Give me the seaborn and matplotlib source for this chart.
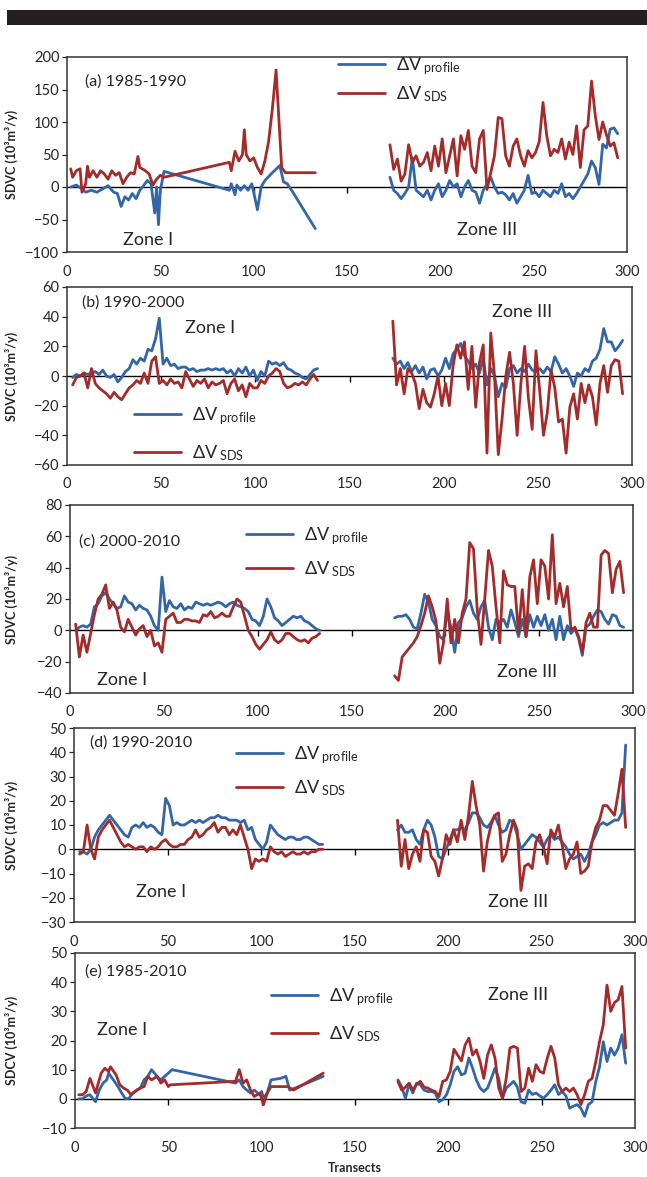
import numpy as np
import matplotlib
matplotlib.use("Agg")
import matplotlib.pyplot as plt
import matplotlib.transforms as mtransforms
from matplotlib.lines import Line2D
from matplotlib.patches import Rectangle
import seaborn as sns

BLUE = "#3366a8"
RED = "#a52b2b"

# transect grids for the two zones
zone1_x = np.arange(3, 134, 2)     # 66 transects
zone3_x = np.arange(173, 296, 2)   # 62 transects

# ---------------- (a) 1985-1990 ----------------
a_prof_z1_x = [2, 5, 8, 10, 13, 16, 19, 22, 25, 27,
               29, 31, 33, 35, 37, 39, 41, 43, 45, 47,
               48, 49, 50, 52, 87, 88, 90, 91, 93, 95,
               97, 99, 100, 102, 104, 106, 110, 114, 116, 118,
               121, 133]
a_prof_z1 = [0, 3, -3, -8, -5, -8, -3, 2, -8, -10,
             -30, -15, -20, -10, -18, -5, 2, 10, 5, -40,
             0, -58, -5, 24, -5, 5, -12, 3, -5, 2,
             -5, 5, -8, -35, 0, 10, 22, 33, 8, 5,
             -8, -64]
a_sds_z1_x = [2, 3, 5, 7, 8, 10, 11, 12, 14, 16,
              18, 20, 22, 24, 26, 28, 30, 32, 34, 36,
              38, 39, 42, 44, 46, 48, 50, 52, 87, 88,
              90, 92, 94, 95, 96, 98, 100, 102, 104, 106,
              108, 110, 112, 113, 115, 117, 133]
a_sds_z1 = [28, 15, 25, 28, -8, 5, 32, 15, 25, 15,
            25, 20, 12, 25, 18, 22, 5, 15, 22, 20,
            47, 30, 25, 20, 3, 12, 18, 15, 38, 25,
            55, 40, 50, 88, 50, 40, 45, 30, 20, 40,
            70, 120, 180, 130, 30, 22, 22]
a_prof_z3 = [15, -5, -10, -18, -10, 0, 45, -5, -10, -15,
             -5, -20, -5, 5, -15, -5, 10, 0, 5, -15,
             0, 10, -5, -8, -25, -5, 5, 15, 0, -10,
             -8, -12, -20, -10, -25, -15, -5, 18, -10, -8,
             -15, -5, -10, -15, -5, -10, 5, -15, -10, -18,
             -10, 0, 10, 20, 40, 30, 4, 66, 60, 89,
             91, 82]
a_sds_z3 = [65, 27, 43, 9, 20, 65, 38, 48, 32, 38,
            53, 25, 63, 32, 74, 22, 48, 74, 17, 79,
            58, 87, 32, 22, 74, 87, -4, 22, 48, 107,
            105, 48, 32, 63, 74, 48, 32, 56, 45, 53,
            70, 130, 79, 48, 58, 53, 74, 43, 69, 50,
            94, 30, 88, 94, 163, 110, 73, 100, 80, 63,
            68, 45]

# ---------------- (b) 1990-2000 ----------------
b_prof_z1 = [-1, 1, 0, 2, 1, 2, 3, 1, 4, 0,
             -1, 1, -4, -1, 3, 5, 11, 8, 12, 10,
             18, 17, 25, 39, 8, 12, 7, 8, 5, 6,
             6, 4, 5, 3, 4, 4, 5, 4, 5, 4,
             5, 2, 4, 0, 5, 2, 6, 0, 4, -3,
             3, 0, 10, 8, 9, 7, 9, 5, 4, 2,
             1, -1, -2, 1, 4, 5]
b_sds_z1 = [-6, -1, 0, 2, -8, 5, -5, -8, -10, -12,
            -15, -11, -14, -16, -12, -8, -6, -3, -5, 2,
            -5, 10, 13, -5, -3, -6, -2, -5, -4, -8,
            3, -2, -7, -3, -5, -2, -8, -4, -6, -5,
            -3, -12, -5, -2, -10, -6, -14, -5, -8, -8,
            -3, -5, 0, 2, 5, 3, -5, -8, -7, -5,
            -6, -4, -6, -2, 1, -3]
b_prof_z3 = [12, 8, 10, 5, 9, 3, 7, 2, 6, -2,
             4, 5, 0, 4, 12, 5, 15, 18, 22, 14,
             10, 5, 8, 2, 12, -6, 5, 0, -14, -5,
             -8, 5, 7, 2, 5, 3, 8, 4, 3, 5,
             2, 6, 3, 13, 8, 2, 5, 0, -7, 2,
             0, 5, 3, 10, 12, 18, 32, 23, 23, 17,
             20, 24]
b_sds_z3 = [37, -6, 5, -12, 5, 2, -5, -22, -9, -18,
            -21, -12, 0, -20, -5, -20, 7, 21, 12, 23,
            -9, 20, -21, 9, 21, -52, 29, 0, -53, -29,
            0, 16, -5, -40, -5, 20, -15, -36, 17, -10,
            -40, -25, 4, -8, -31, -29, -52, -21, -12, -29,
            -5, -18, -6, -14, -33, -5, 7, -11, 7, 11,
            10, -12]

# ---------------- (c) 2000-2010 ----------------
c_prof_z1 = [0, 2, 3, 2, 4, 15, 17, 22, 24, 20,
             17, 14, 15, 22, 18, 17, 13, 16, 14, 13,
             9, 3, 0, 34, 12, 19, 15, 14, 17, 13,
             15, 14, 18, 17, 16, 17, 16, 17, 18, 17,
             15, 17, 18, 16, 15, 14, 12, 7, 6, 3,
             9, 20, 15, 8, 6, 3, 5, 7, 9, 8,
             9, 6, 5, 3, 1, 0]
c_sds_z1 = [4, -17, -3, -14, -2, 10, 20, 23, 29, 14,
            18, 13, 2, -1, 7, 2, -3, 1, 3, -4,
            0, -10, -8, -14, 7, 9, 11, 5, 5, 7,
            7, 6, 6, 5, 10, 9, 12, 8, 9, 11,
            9, 9, 15, 20, 18, 9, 0, -4, -9, -12,
            -9, -6, -1, -6, -8, -6, -2, -2, -4, -6,
            -7, -6, -8, -5, -4, -2]
c_prof_z3 = [8, 9, 9, 10, 7, 2, 1, 11, 23, 18,
             7, 3, -4, -6, 11, 2, -14, 5, 8, 15,
             19, 11, 7, 15, 19, 2, -6, 7, 5, 7,
             2, 13, 5, -4, 7, -4, 10, 2, 9, 3,
             10, 0, 7, -6, 9, -6, 3, -2, 1, -5,
             -16, 2, 4, 9, 13, 12, 7, 4, 10, 9,
             3, 2]
c_sds_z3 = [-29, -32, -17, -14, -11, -8, -4, 3, 11, 22,
            15, 6, -21, -8, 20, -8, 7, -8, 11, 20,
            56, 52, 13, -9, 20, 51, 41, 15, -8, 38,
            29, 28, 28, -2, 26, -4, 34, 45, 17, 45,
            41, 20, 61, 17, 30, 15, 28, 0, 2, -4,
            -14, 5, 11, 2, 2, 48, 51, 49, 24, 39,
            44, 24]

# ---------------- (d) 1990-2010 ----------------
d_prof_z1 = [-1, -1, -2, 0, 5, 8, 10, 12, 14, 12,
             10, 8, 6, 5, 9, 10, 9, 11, 9, 10,
             9, 7, 6, 21, 18, 10, 11, 10, 10, 11,
             12, 11, 12, 11, 12, 13, 13, 14, 13, 13,
             12, 12, 12, 11, 12, 8, 9, 4, 2, 0,
             3, 10, 8, 6, 5, 4, 5, 5, 4, 4,
             5, 5, 4, 3, 2, 2]
d_sds_z1 = [-2, -1, 10, 0, -4, 5, 8, 10, 12, 9,
            6, 3, 1, 2, 1, 0, 1, 1, -1, 1,
            0, 1, 3, 4, 2, 1, 1, 2, 2, 4,
            5, 8, 5, 6, 8, 9, 11, 7, 9, 9,
            6, 8, 6, 10, 5, 0, -8, -4, -5, -4,
            -5, 1, -1, -2, -1, -3, -2, -1, -2, -2,
            -1, -2, -1, -1, 0, 0]
d_prof_z3 = [8, 10, 7, 7, 8, 4, 2, 8, 12, 10,
             5, -3, -4, 0, 4, 8, 8, 9, 8, 11,
             15, 15, 13, 10, 9, 11, 14, 10, 7, 8,
             12, 11, 6, 0, 2, 4, 6, 5, 3, 1,
             4, 6, 4, 5, 3, 1, -2, -4, -3, -2,
             -5, -2, 3, 6, 10, 11, 10, 11, 12, 12,
             15, 43]
d_sds_z3 = [12, -7, 4, -8, -2, 1, -5, 8, 7, -3,
            -5, -11, -4, 6, 2, 8, 3, 12, 4, 14,
            28, 18, 10, -9, 3, 10, 14, 15, -5, -2,
            6, 12, 8, -17, -7, -6, -8, 3, 6, 1,
            -6, 8, 5, 10, 2, -8, -4, -2, 3, -10,
            -9, -7, 3, 9, 12, 18, 18, 16, 14, 23,
            33, 9]

# ---------------- (e) 1985-2010 ----------------
e_prof_z1_x = [2, 4, 6, 8, 11, 13, 15, 17, 18, 20,
               23, 25, 27, 29, 31, 35, 37, 39, 41, 44,
               46, 48, 50, 52, 86, 88, 90, 92, 94, 96,
               99, 100, 101, 103, 105, 110, 113, 115, 118, 133]
e_prof_z1 = [0, 0, 1, 1.4, -1, 3, 5.4, 6.5, 8.8, 7,
             4.2, 2, 0, 0.2, 2, 3.7, 6.5, 7.7, 10, 7.7,
             6.5, 7.7, 8.8, 10, 5.4, 6.5, 4.2, 3, 2, 3,
             1.4, 2.5, 0.2, 2, 6.5, 7, 7.7, 3, 3.7, 7.7]
e_sds_z1_x = [2, 4, 6, 8, 9, 11, 13, 14, 16, 18,
              19, 22, 24, 26, 28, 30, 33, 35, 37, 39,
              41, 44, 46, 48, 50, 51, 86, 88, 90, 92,
              94, 96, 99, 101, 103, 105, 114, 117, 133]
e_sds_z1 = [1.4, 1.4, 2.5, 7, 5.4, 2, 6.5, 8.8, 10.5, 9.4,
            11, 8.2, 4.8, 3.7, 3, 1.4, 3, 3.7, 4.2, 7.7,
            6.5, 7.7, 5.4, 6.5, 4.2, 4.8, 6, 10, 5.4, 6.5,
            3, 0.8, 2, -2, 2, 4.2, 4.2, 3, 8.8]
e_prof_z3 = [6.5, 4.2, 0.2, 5, 2, 5.4, 4.8, 3, 2.5, 2.5,
             2, -1, -0.3, 1.4, 4.8, 9.4, 11, 8.2, 8.8, 14,
             10.5, 6.5, 3.7, 2.5, 3.7, 7, 10.5, 7, 0.2, 3.7,
             4.8, 6, 4, -1, -1.5, 3, 1.5, 2, 1, 0.2,
             1.5, 3, 4.8, 1.5, 2.5, 1, -3.2, -2.5, -2, -3.2,
             -6, -2, -1, 6, 11, 19.6, 12.8, 17.4, 15, 17.4,
             22, 12.2]
e_sds_z3 = [6, 3, 4, 5.4, 3, 5, 6, 4, 3.7, 3,
            2.5, 0.8, 6, 6.5, 9.4, 17, 15, 13, 18.5, 20.8,
            15, 16.8, 12.8, 7, 15, 18.5, 14, 3.7, 0.2, 7,
            17.4, 18, 17.4, 2.5, 3.7, 10.5, 6, 11.7, 9.4, 8.8,
            14, 18, 14, 4.8, 2.5, 3.7, 2.5, 3.7, 1.4, -2,
            1.4, 6, 7, 12.8, 19.6, 25.4, 39, 30, 33, 34,
            38.5, 17.4]

W, H = 647, 1177
LABEL = "SDVC (10³m³/y)"

panels = [
    dict(tag="(a) 1985-1990", ylabel=LABEL, ylim=(-100, 200), ystep=50,
         prof=[(a_prof_z1_x, a_prof_z1), (zone3_x, a_prof_z3)],
         sds=[(a_sds_z1_x, a_sds_z1), (zone3_x, a_sds_z3)],
         box=(67, 57, 627, 252), tag_xy=(85, 82), z1=(123, 240), z3=(457, 230),
         leg=(338, 55), legsp=0.45),
    dict(tag="(b) 1990-2000", ylabel=LABEL, ylim=(-60, 60), ystep=20,
         prof=[(zone1_x, b_prof_z1), (zone3_x, b_prof_z3)],
         sds=[(zone1_x, b_sds_z1), (zone3_x, b_sds_z3)],
         box=(67, 287, 632, 465), tag_xy=(82, 303), z1=(185, 328), z3=(492, 312),
         leg=(134, 405), legsp=0.95),
    dict(tag="(c) 2000-2010", ylabel=LABEL, ylim=(-40, 80), ystep=20,
         prof=[(zone1_x, c_prof_z1), (zone3_x, c_prof_z3)],
         sds=[(zone1_x, c_sds_z1), (zone3_x, c_sds_z3)],
         box=(70, 505, 633, 693), tag_xy=(79, 542), z1=(97, 680), z3=(497, 672),
         leg=(246, 525), legsp=0.7),
    dict(tag="(d) 1990-2010", ylabel=LABEL, ylim=(-30, 50), ystep=10,
         prof=[(zone1_x, d_prof_z1), (zone3_x, d_prof_z3)],
         sds=[(zone1_x, d_sds_z1), (zone3_x, d_sds_z3)],
         box=(74, 728, 635, 922), tag_xy=(90, 743), z1=(136, 892), z3=(488, 902),
         leg=(236, 744), legsp=0.7),
    dict(tag="(e) 1985-2010", ylabel="SDCV (10³m³/y)", ylim=(-10, 50), ystep=10,
         prof=[(e_prof_z1_x, e_prof_z1), (zone3_x, e_prof_z3)],
         sds=[(e_sds_z1_x, e_sds_z1), (zone3_x, e_sds_z3)],
         box=(75, 953, 635, 1128), tag_xy=(85, 972), z1=(97, 1030), z3=(488, 995),
         leg=(271, 986), legsp=0.95),
]

sns.set_style("white")
plt.rcParams["font.family"] = ["Lato", "DejaVu Sans"]
plt.rcParams["mathtext.fontset"] = "custom"
plt.rcParams["mathtext.rm"] = "Lato"
plt.rcParams["mathtext.it"] = "Lato:italic"
plt.rcParams["mathtext.bf"] = "Lato:bold"

fig = plt.figure(figsize=(W / 100, H / 100), dpi=100)
fig.patch.set_facecolor("white")

# black header strip
fig.add_artist(Rectangle((7 / W, 1 - 25 / H), 1, 15 / H, transform=fig.transFigure,
                         facecolor="#231f20", edgecolor="none"))

xticks = np.arange(0, 301, 50)

for p in panels:
    l, t, r, b = p["box"]
    ax = fig.add_axes([l / W, 1 - b / H, (r - l) / W, (b - t) / H])

    for xs, ys in p["prof"]:
        assert len(xs) == len(ys)
        sns.lineplot(x=np.asarray(xs), y=np.asarray(ys, dtype=float), ax=ax, color=BLUE,
                     linewidth=2.0, estimator=None, sort=False, legend=False, zorder=3)
    for xs, ys in p["sds"]:
        assert len(xs) == len(ys)
        sns.lineplot(x=np.asarray(xs), y=np.asarray(ys, dtype=float), ax=ax, color=RED,
                     linewidth=2.0, estimator=None, sort=False, legend=False, zorder=4)

    ax.axhline(0, color="black", lw=1.0, zorder=2)
    # excel-style tick marks sitting on the zero line
    ax.plot(xticks[1:-1], np.zeros(len(xticks) - 2), ls="none", marker=3, ms=4,
            mew=1.0, color="black", zorder=2)

    lo, hi = p["ylim"]
    ax.set_xlim(0, 300)
    ax.set_ylim(lo, hi)
    ax.set_xticks(xticks)
    ax.set_yticks(np.arange(lo, hi + 1, p["ystep"]))
    ax.tick_params(axis="x", length=0, pad=9, labelsize=10.5)
    ax.tick_params(axis="y", direction="out", length=3.5, width=0.9, pad=2,
                   labelsize=10.5, left=True)
    ax.set_xlabel("")
    for s in ax.spines.values():
        s.set_color("#333333")
        s.set_linewidth(1.1)
    ax.grid(False)

    ax.set_ylabel(p["ylabel"], fontsize=9, fontweight="bold")
    ax.yaxis.set_label_coords(18 / W, 0.5,
                              transform=mtransforms.blended_transform_factory(fig.transFigure, ax.transAxes))

    fig.text(p["tag_xy"][0] / W, 1 - p["tag_xy"][1] / H, p["tag"], fontsize=11.5,
             ha="left", va="center")
    fig.text(p["z1"][0] / W, 1 - p["z1"][1] / H, "Zone I", fontsize=13,
             ha="left", va="center")
    fig.text(p["z3"][0] / W, 1 - p["z3"][1] / H, "Zone III", fontsize=13,
             ha="left", va="center")

    handles = [Line2D([], [], color=BLUE, lw=2.0), Line2D([], [], color=RED, lw=2.0)]
    labels = [r"$\Delta\mathrm{V}_{\;\mathrm{profile}}$", r"$\Delta\mathrm{V}_{\;\mathrm{SDS}}$"]
    ax.legend(handles, labels, loc="upper left",
              bbox_to_anchor=(p["leg"][0] / W, 1 - p["leg"][1] / H),
              bbox_transform=fig.transFigure, frameon=False, fontsize=13,
              handlelength=2.6, handletextpad=0.6, borderpad=0, borderaxespad=0,
              labelspacing=p["legsp"])

fig.text(355 / W, 1 - 1168 / H, "Transects", fontsize=9, fontweight="bold",
         ha="center", va="center")

fig.savefig("out.png", dpi=100)
